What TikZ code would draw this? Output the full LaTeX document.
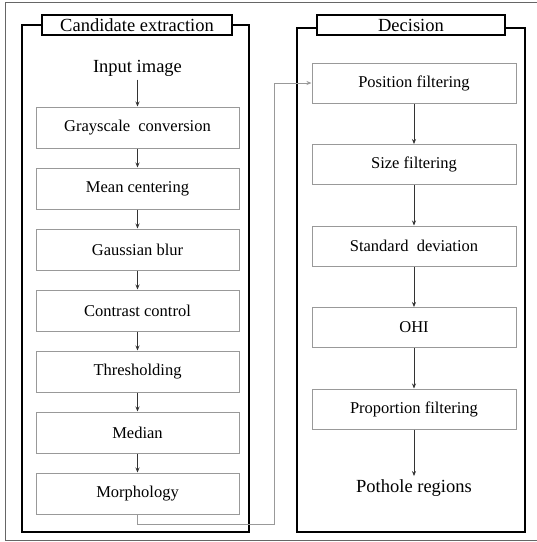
\documentclass[tikz,border=0pt]{standalone}
\usepackage{fontspec}
\setmainfont{Liberation Serif}
\usepackage{xcolor}
\usepackage{tikz}
\usetikzlibrary{arrows.meta}

\begin{document}
\begin{tikzpicture}[x=1pt, y=-1pt,
      box/.style={rectangle, draw=black!40, line width=1pt, minimum width=203pt, minimum height=41pt, align=center, font=\fontsize{16.5}{19}\selectfont},
      label/.style={font=\fontsize{18.5}{21}\selectfont},
      title/.style={rectangle, draw, line width=2pt, fill=white, minimum height=20pt, inner sep=0pt, font=\fontsize{18.5}{21}\selectfont},
      panel/.style={draw, line width=2pt},
      arrow/.style={->, >={Stealth[length=5pt,width=4pt]}, line width=0.7pt, black!80},
      link/.style={->, >={Stealth[length=5pt,width=4pt]}, line width=0.9pt, black!40}
    ]
      \useasboundingbox (0,0) rectangle (537,542);
      \draw[black!60, line width=0.8pt] (538,2) -- (5,2) -- (5,540) -- (538,540);

      % candidate extraction
      \draw[panel] (22,25) rectangle (249,532);
      \node[title, minimum width=190pt] (ttlA) at (137,25) {Candidate extraction};
      \node[label] (input)  at (137.5,68)    {Input image};
      \node[box] (gray)     at (137.5,127.5) {Grayscale\ \ conversion};
      \node[box] (mean)     at (137.5,188.5) {Mean centering};
      \node[box] (gauss)    at (137.5,249.5) {Gaussian blur};
      \node[box] (contrast) at (137.5,310.5) {Contrast control};
      \node[box] (thresh)   at (137.5,371.5) {Thresholding};
      \node[box] (median)   at (137.5,432.5) {Median};
      \node[box] (morph)    at (137.5,493.5) {Morphology};

      % decision
      \draw[panel] (297,28) rectangle (525,532);
      \node[title, minimum width=188pt] (ttlB) at (411,25) {Decision};
      \node[box, minimum width=204pt, minimum height=40pt] (pos)   at (414,83)    {Position filtering};
      \node[box, minimum width=204pt, minimum height=40pt] (size)  at (414,164.5) {Size filtering};
      \node[box, minimum width=204pt, minimum height=40pt] (std)   at (414,246)   {Standard\ \ deviation};
      \node[box, minimum width=204pt, minimum height=40pt] (ohi)   at (414,327.5) {OHI};
      \node[box, minimum width=204pt, minimum height=40pt] (prop)  at (414,409)   {Proportion filtering};
      \node[label] (pothole) at (414,488) {Pothole regions};

      \draw[arrow] (input)  -- (gray);
      \draw[arrow] (gray)   -- (mean);
      \draw[arrow] (mean)   -- (gauss);
      \draw[arrow] (gauss)  -- (contrast);
      \draw[arrow] (contrast) -- (thresh);
      \draw[arrow] (thresh) -- (median);
      \draw[arrow] (median) -- (morph);

      \draw[arrow] (pos)  -- (size);
      \draw[arrow] (size) -- (std);
      \draw[arrow] (std)  -- (ohi);
      \draw[arrow] (ohi)  -- (prop);
      \draw[arrow] (prop) -- (pothole);

      \coordinate (turn) at (274,524);
      \draw[link] (morph.south) |- (turn) |- (pos.west);
    \end{tikzpicture}
\end{document}
